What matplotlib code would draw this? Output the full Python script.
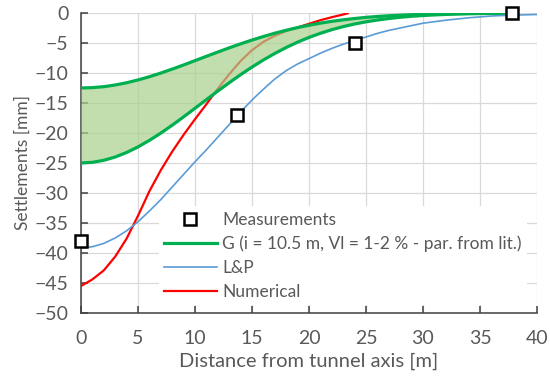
import matplotlib
matplotlib.use("Agg")
import matplotlib.pyplot as plt
from matplotlib.lines import Line2D

# ---- data ----
meas_x = [0, 13.7, 24, 37.8]
meas_y = [-38, -17, -5, 0]

g_x = [0, 1, 2, 3, 4, 5, 6, 7, 8, 9, 10, 11, 12, 13, 14, 15, 16, 17, 18, 19,
       20, 21, 22, 23, 24, 25, 26, 27, 28, 29, 30, 31, 32, 33, 34, 35, 36, 37, 38]
g_low = [-12.5, -12.44, -12.28, -12.00, -11.63, -11.16, -10.62, -10.01, -9.35, -8.66,
         -7.94, -7.22, -6.51, -5.81, -5.14, -4.51, -3.92, -3.37, -2.88, -2.43,
         -2.04, -1.69, -1.39, -1.14, -0.92, -0.73, -0.58, -0.46, -0.36, -0.28,
         -0.21, -0.16, -0.12, -0.09, -0.07, -0.05, -0.04, -0.03, -0.02]
g_high = [-25.0, -24.89, -24.55, -24.00, -23.25, -22.32, -21.23, -20.02, -18.70, -17.31,
          -15.88, -14.44, -13.01, -11.62, -10.28, -9.01, -7.83, -6.74, -5.75, -4.86,
          -4.07, -3.38, -2.78, -2.27, -1.83, -1.47, -1.17, -0.92, -0.71, -0.55,
          -0.42, -0.32, -0.24, -0.18, -0.13, -0.10, -0.07, -0.05, -0.04]

lp_x = [0, 1, 2, 3, 4, 5, 6, 7, 8, 9, 10, 11, 12, 13, 14, 15, 16, 17, 18, 19,
        20, 21, 22, 23, 24, 25, 26, 27, 28, 29, 30, 31, 32, 33, 34, 35, 36, 37, 38, 39, 40]
lp_y = [-39.2, -38.95, -38.4, -37.5, -36.3, -34.8, -33.0, -31.1, -29.0, -26.9,
        -24.8, -22.8, -20.7, -18.6, -16.5, -14.5, -12.7, -11.0, -9.6, -8.5,
        -7.6, -6.7, -5.9, -5.2, -4.6, -4.0, -3.4, -2.9, -2.5, -2.1,
        -1.7, -1.45, -1.2, -1.0, -0.8, -0.65, -0.5, -0.42, -0.35, -0.3, -0.25]

num_x = [0, 1, 2, 3, 4, 5, 6, 7, 8, 9, 10, 11, 12, 13, 14, 15, 16, 17, 18, 19,
         20, 21, 22, 23, 23.5]
num_y = [-45.5, -44.4, -42.9, -40.6, -37.6, -33.8, -29.7, -26.2, -23.1, -20.3,
         -17.7, -15.2, -12.6, -10.2, -8.0, -6.2, -4.8, -3.8, -3.0, -2.4,
         -1.8, -1.2, -0.7, -0.25, 0.0]

x_ticks = [0, 5, 10, 15, 20, 25, 30, 35, 40]
y_ticks = [0, -5, -10, -15, -20, -25, -30, -35, -40, -45, -50]

labels = ["Measurements", "G (i = 10.5 m, Vl = 1-2 % - par. from lit.)", "L&P", "Numerical"]

# ---- styling ----
plt.rcParams['font.family'] = ['Lato', 'DejaVu Sans']
txt = '#595959'

fig = plt.figure(figsize=(5.5, 3.79), dpi=100)
ax = fig.add_axes([81/550, 1-313/379, 456/550, 300/379])

green = '#00b050'
blue = '#5b9bd5'
red = '#ff0000'

ax.plot(num_x, num_y, color=red, lw=1.6, zorder=3, solid_capstyle='butt')
ax.fill_between(g_x, g_low, g_high, color='#a9d18e', alpha=0.7, lw=0, zorder=4)
ax.plot(g_x, g_low, color=green, lw=2.3, zorder=5)
ax.plot(g_x, g_high, color=green, lw=2.3, zorder=5)
ax.plot(lp_x, lp_y, color=blue, lw=1.2, zorder=5)
ax.plot(meas_x, meas_y, ls='none', marker='s', ms=8, mfc='white', mec='black',
        mew=1.8, zorder=7, clip_on=False)

ax.set_xlim(0, 40)
ax.set_ylim(-50, 0)
ax.set_xticks(x_ticks)
ax.set_yticks(y_ticks)
ax.grid(True, color='#d9d9d9', lw=0.9, zorder=0)
ax.set_axisbelow(True)
for s in ['top', 'right']:
    ax.spines[s].set_visible(False)
for s in ['left', 'bottom']:
    ax.spines[s].set_color('#404040')
    ax.spines[s].set_linewidth(1.1)
ax.tick_params(direction='in', length=5, width=1.1, color='#404040',
               labelcolor=txt, labelsize=14)
ax.tick_params(axis='x', pad=12)
ax.tick_params(axis='y', pad=9)
ax.set_xlabel('Distance from tunnel axis [m]', fontsize=14.5, color=txt, labelpad=4)
ax.set_ylabel('Settlements [mm]', fontsize=12.5, color=txt, labelpad=3)

handles = [
    Line2D([], [], ls='none', marker='s', ms=8, mfc='white', mec='black', mew=1.8),
    Line2D([], [], color=green, lw=2.3),
    Line2D([], [], color=blue, lw=1.2),
    Line2D([], [], color=red, lw=1.6),
]
leg = ax.legend(handles, labels, loc='upper left', bbox_to_anchor=(0.17, 0.355),
                fontsize=12.5, frameon=True, fancybox=False, framealpha=1.0,
                edgecolor='none', facecolor='white', handlelength=3.05,
                handletextpad=0.3, labelspacing=0.45, borderpad=0.3,
                borderaxespad=0)
for t in leg.get_texts():
    t.set_color(txt)
leg.set_zorder(6)

fig.savefig('out.png', dpi=100)
